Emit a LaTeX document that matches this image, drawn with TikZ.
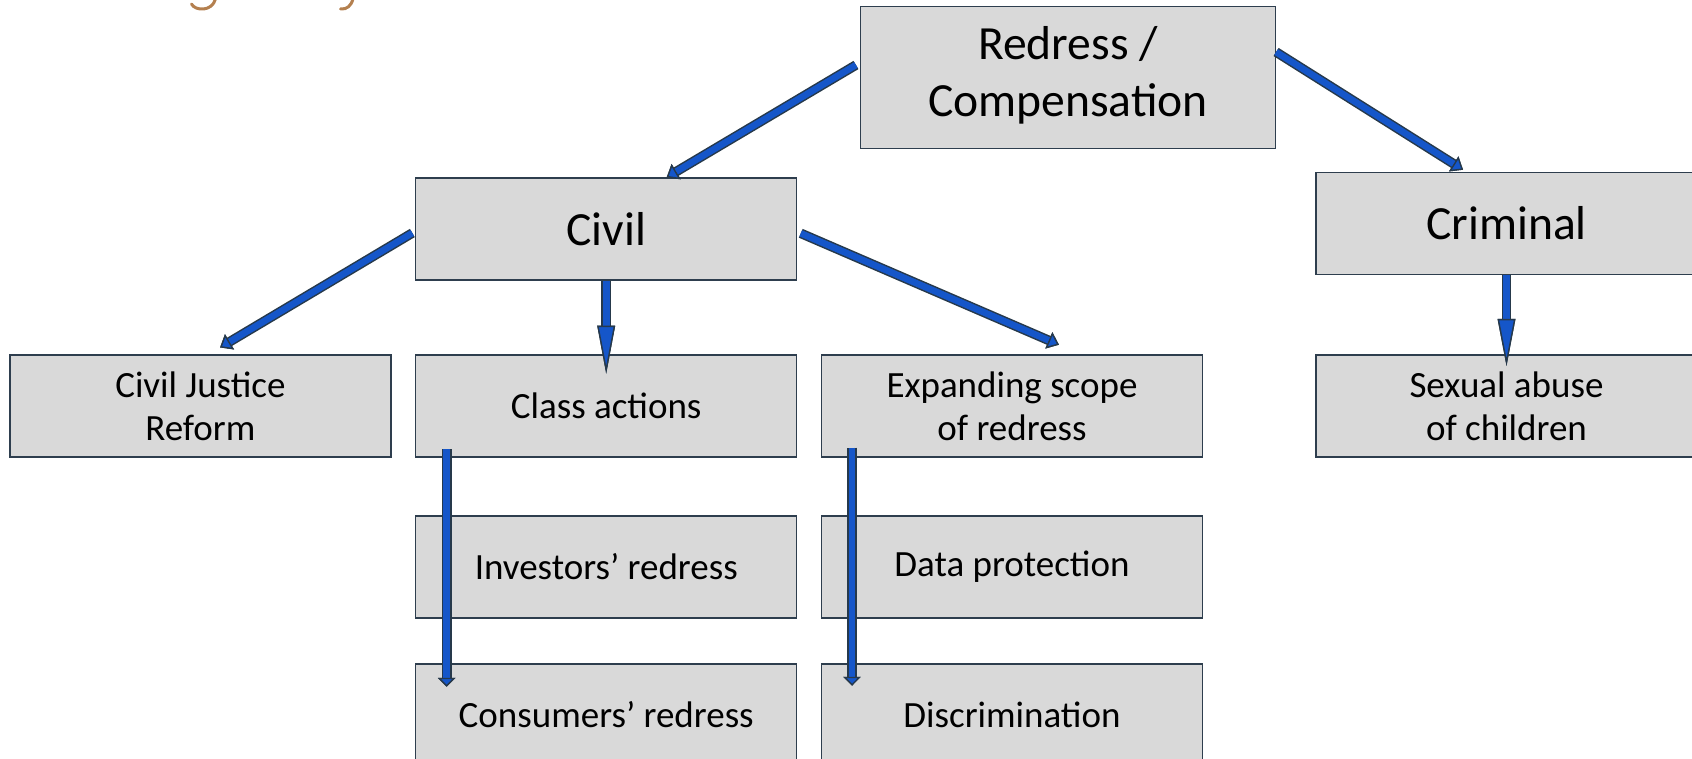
\documentclass[tikz,border=0pt]{standalone}
\usepackage{fontspec}
\setmainfont{Carlito}
\usepackage{tikz}
\usetikzlibrary{arrows.meta,positioning}
\definecolor{boxfill}{HTML}{D9D9D9}
\definecolor{boxedge}{HTML}{2E3E4E}
\definecolor{linkblue}{HTML}{1556C9}
\definecolor{linkedge}{HTML}{26394B}
\definecolor{titlecol}{HTML}{B4804F}
\tikzset{
  box/.style={draw=boxedge, fill=boxfill, line width=0.75pt, minimum width=190.5pt,
    minimum height=51pt, inner sep=0pt, align=center, font=\fontsize{18.5}{21.5}\selectfont},
  bigbox/.style={box, font=\fontsize{23.8}{28.5}\selectfont},
  link/.style={draw=linkblue, line width=3.3pt,
    -{Triangle[length=#1, width=8.8pt, color=linkedge, fill=linkblue, line width=0.7pt]},
    preaction={draw=linkedge, line width=4.8pt,
      -{Triangle[length=#1, width=8.8pt, color=linkedge, fill=linkblue, line width=0.7pt]}}},
  link/.default=5.5pt
}
\begin{document}
\begin{tikzpicture}[x=0.5pt,y=-0.5pt]
        \useasboundingbox (0,0) rectangle (1692,759);
        \draw[titlecol, line width=1.5pt, line cap=round]
          (191.5,4) .. controls (195,11) and (212,12) .. (215.5,-1);
        \draw[titlecol, line width=1.5pt, line cap=round]
          (340.5,9) .. controls (347,9.5) and (351,6) .. (353,-1);

        \node[bigbox, minimum width=207.3pt, minimum height=70.8pt, text depth=6.3pt] (Red) at (1068,77.5) {Redress /\\Compensation};
        \node[bigbox] (Civ) at (606.2,229) {Civil};
        \node[bigbox] (Crim) at (1506.5,223.5) {Criminal};

        \node[box, below=36.65pt of Civ] (CA) {Class actions};
        \node[box, left=11.65pt of CA] (CJR) {Civil Justice\\Reform};
        \node[box, right=11.65pt of CA] (ES) {Expanding scope\\of redress};
        \node[box, below=39.5pt of Crim] (SA) {Sexual abuse\\of children};
        \node[box, below=28.85pt of CA] (IR) {Investors’ redress};
        \node[box, below=22.15pt of IR] (CR) {Consumers’ redress};
        \node[box, right=11.65pt of IR] (DP) {Data protection};
        \node[box, right=11.65pt of CR] (Dis) {Discrimination};

        \draw[link] ([xshift=-2pt,yshift=6.25pt]Red.west) -- ([xshift=30.25pt]Civ.north);
        \draw[link] ([yshift=12.75pt]Red.east) -- ([xshift=-21.75pt,yshift=1pt]Crim.north);
        \draw[link] ([xshift=-1.3pt,yshift=-2pt]Civ.west) -- ([xshift=9.85pt,yshift=3.3pt]CJR.north);
        \draw[link=24pt] (Civ.south) -- ([yshift=-9.85pt]CA.north);
        \draw[link] ([xshift=1.65pt,yshift=-2.15pt]Civ.east) -- ([xshift=23.45pt,yshift=4.65pt]ES.north);
        \draw[link=23.5pt] (Crim.south) -- ([yshift=-5.85pt]SA.north);
        \draw[link=4.5pt] ([xshift=-79.75pt,yshift=4.15pt]CA.south) -- ([xshift=-79.75pt,yshift=-11.85pt]CR.north);
        \draw[link=4.5pt] ([xshift=-80pt,yshift=5pt]ES.south) -- ([xshift=-80pt,yshift=-11.35pt]Dis.north);
\end{tikzpicture}
\end{document}
